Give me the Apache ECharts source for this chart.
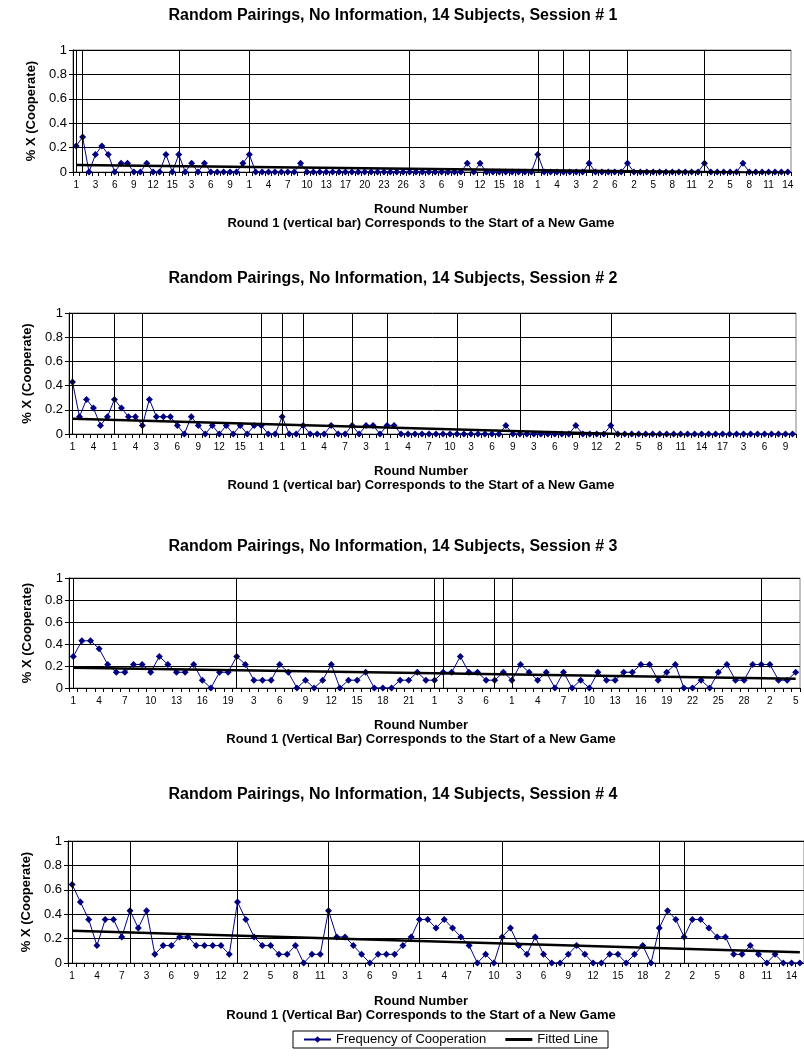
<!DOCTYPE html>
<html>
<head>
<meta charset="utf-8">
<script src="https://cdn.jsdelivr.net/npm/echarts@6/dist/echarts.min.js"></script>
<style>
  html, body { margin: 0; padding: 0; background: #fff; }
  #chart { width: 804px; height: 1062px; }
</style>
</head>
<body>
<div id="chart"></div>
<script>
// round number of each period (1 = start of a new game), one array per session
const roundsS1 = [
  1,
  1,2,3,4,5,6,7,8,9,10,11,12,13,14,15,
  1,2,3,4,5,6,7,8,9,10,11,
  1,2,3,4,5,6,7,8,9,10,11,12,13,15,16,17,18,19,20,21,22,23,24,25,26,
  1,2,3,4,5,6,7,8,9,10,11,12,13,14,15,16,17,18,19,20,
  1,2,3,4,
  1,2,3,4,
  1,2,3,4,6,7,
  1,2,3,4,5,6,7,8,9,10,11,12,
  1,2,3,4,5,6,7,8,9,10,11,12,13,14
];
const roundsS2 = [
  1,2,3,4,5,6,
  1,2,3,4,
  1,2,3,4,5,6,7,8,9,10,11,12,13,14,15,16,17,
  1,2,3,
  1,2,3,
  1,2,3,4,5,6,7,
  1,2,3,4,5,
  1,2,3,4,5,6,7,8,9,10,
  1,2,3,4,5,6,7,8,9,
  1,2,3,4,5,6,7,8,9,10,11,12,13,
  1,2,3,4,5,6,7,8,9,10,11,12,13,14,15,16,17,
  1,2,3,4,5,6,7,8,9,10
];
const roundsS3 = [
  1,2,3,4,5,6,7,8,9,10,11,12,13,14,15,16,17,18,19,
  1,2,3,4,5,6,7,8,9,10,11,12,13,14,15,16,17,18,19,20,21,22,23,
  1,
  1,2,3,4,5,6,
  1,2,
  1,2,3,4,5,6,7,8,9,10,11,12,13,14,15,16,17,18,19,20,21,22,23,24,25,26,27,28,29,
  1,2,3,4,5
];
const roundsS4 = [
  1,2,3,4,5,6,7,
  1,2,3,4,5,6,7,8,9,10,11,12,13,
  1,2,3,4,5,6,7,8,9,10,11,
  1,2,3,4,5,6,7,8,9,10,11,
  1,2,3,4,5,6,7,8,9,10,
  1,2,3,4,5,6,7,8,9,10,11,12,13,14,15,16,17,18,19,
  1,2,3,
  1,2,3,4,5,6,7,8,9,10,11,12,13,14,15
];

// share of the 14 subjects who cooperated in each period
const coopS1 = [
  0.214,0.286,0,0.143,0.214,0.143,0,0.071,0.071,0,
  0,0.071,0,0,0.143,0,0.143,0,0.071,0,
  0.071,0,0,0,0,0,0.071,0.143,0,0,
  0,0,0,0,0,0.071,0,0,0,0,
  0,0,0,0,0,0,0,0,0,0,
  0,0,0,0,0,0,0,0,0,0,
  0,0.071,0,0.071,0,0,0,0,0,0,
  0,0,0.143,0,0,0,0,0,0,0,
  0.071,0,0,0,0,0,0.071,0,0,0,
  0,0,0,0,0,0,0,0,0.071,0,
  0,0,0,0,0.071,0,0,0,0,0,
  0,0
];
const coopS2 = [
  0.429,0.143,0.286,0.214,0.071,0.143,0.286,0.214,0.143,0.143,
  0.071,0.286,0.143,0.143,0.143,0.071,0,0.143,0.071,0,
  0.071,0,0.071,0,0.071,0,0.071,0.071,0,0,
  0.143,0,0,0.071,0,0,0,0.071,0,0,
  0.071,0,0.071,0.071,0,0.071,0.071,0,0,0,
  0,0,0,0,0,0,0,0,0,0,
  0,0,0.071,0,0,0,0,0,0,0,
  0,0,0.071,0,0,0,0,0.071,0,0,
  0,0,0,0,0,0,0,0,0,0,
  0,0,0,0,0,0,0,0,0,0,
  0,0,0,0
];
const coopS3 = [
  0.286,0.429,0.429,0.357,0.214,0.143,0.143,0.214,0.214,0.143,
  0.286,0.214,0.143,0.143,0.214,0.071,0,0.143,0.143,0.286,
  0.214,0.071,0.071,0.071,0.214,0.143,0,0.071,0,0.071,
  0.214,0,0.071,0.071,0.143,0,0,0,0.071,0.071,
  0.143,0.071,0.071,0.143,0.143,0.286,0.143,0.143,0.071,0.071,
  0.143,0.071,0.214,0.143,0.071,0.143,0,0.143,0,0.071,
  0,0.143,0.071,0.071,0.143,0.143,0.214,0.214,0.071,0.143,
  0.214,0,0,0.071,0,0.143,0.214,0.071,0.071,0.214,
  0.214,0.214,0.071,0.071,0.143
];
const coopS4 = [
  0.643,0.5,0.357,0.143,0.357,0.357,0.214,0.429,0.286,0.429,
  0.071,0.143,0.143,0.214,0.214,0.143,0.143,0.143,0.143,0.071,
  0.5,0.357,0.214,0.143,0.143,0.071,0.071,0.143,0,0.071,
  0.071,0.429,0.214,0.214,0.143,0.071,0,0.071,0.071,0.071,
  0.143,0.214,0.357,0.357,0.286,0.357,0.286,0.214,0.143,0,
  0.071,0,0.214,0.286,0.143,0.071,0.214,0.071,0,0,
  0.071,0.143,0.071,0,0,0.071,0.071,0,0.071,0.143,
  0,0.286,0.429,0.357,0.214,0.357,0.357,0.286,0.214,0.214,
  0.071,0.071,0.143,0.071,0,0.071,0,0,0
];

// fitted line value at the first and at the last period
const fitS1 = [0.057, -0.009];
const fitS2 = [0.127, -0.04];
const fitS3 = [0.185, 0.083];
const fitS4 = [0.265, 0.088];

const titles = [
  "Random Pairings, No Information, 14 Subjects, Session # 1",
  "Random Pairings, No Information, 14 Subjects, Session # 2",
  "Random Pairings, No Information, 14 Subjects, Session # 3",
  "Random Pairings, No Information, 14 Subjects, Session # 4"
];
const notes = [
  "Round 1 (vertical bar) Corresponds to the Start of a New Game",
  "Round 1 (vertical bar) Corresponds to the Start of a New Game",
  "Round 1 (Vertical Bar) Corresponds to the Start of a New Game",
  "Round 1 (Vertical Bar) Corresponds to the Start of a New Game"
];

const FONT = "'Liberation Sans', Arial, sans-serif";

const sessions = [
  { rounds: roundsS1, coop: coopS1, fit: fitS1 },
  { rounds: roundsS2, coop: coopS2, fit: fitS2 },
  { rounds: roundsS3, coop: coopS3, fit: fitS3 },
  { rounds: roundsS4, coop: coopS4, fit: fitS4 }
];

// where each panel sits on the page
const layout = [
  { left: 73, top: 50, width: 718, height: 122, titleY: 16, nameY: 209, noteY: 223 },
  { left: 69, top: 313, width: 727, height: 121, titleY: 279, nameY: 471, noteY: 485 },
  { left: 69, top: 578, width: 731, height: 110, titleY: 547, nameY: 725, noteY: 739 },
  { left: 68, top: 841, width: 739, height: 122, titleY: 795, nameY: 1001, noteY: 1015 }
];

const grids = [], xAxes = [], yAxes = [], series = [], texts = [];

function label(text, x, y, font) {
  return {
    type: "text", x: x, y: y, silent: true,
    style: { text: text, font: font, fill: "#000", align: "center", verticalAlign: "middle",
             textAlign: "center", textVerticalAlign: "middle" }
  };
}

sessions.forEach((s, i) => {
  const L = layout[i];
  const n = s.rounds.length;
  // vertical bar at every period where round 1 of a game is played
  const starts = [];
  s.rounds.forEach((r, k) => { if (r === 1) starts.push(k); });

  grids.push({
    left: L.left, top: L.top, width: L.width, height: L.height,
    show: true, borderColor: "#808080", borderWidth: 1
  });

  xAxes.push({
    gridIndex: i,
    type: "category",
    data: s.rounds.map(String),
    boundaryGap: true,
    axisLine: { lineStyle: { color: "#000", width: 1 } },
    axisTick: { show: true, interval: 0, length: 4, lineStyle: { color: "#000" } },
    axisLabel: { interval: 2, fontSize: 10, color: "#000", margin: 8, fontFamily: FONT },
    splitLine: { show: false }
  });

  yAxes.push({
    gridIndex: i,
    type: "value",
    min: 0, max: 1, interval: 0.2,
    name: "% X (Cooperate)",
    nameLocation: "middle",
    nameGap: 34,
    nameTextStyle: { fontWeight: "bold", fontSize: 13, color: "#000", fontFamily: FONT },
    axisLine: { show: true, lineStyle: { color: "#000" } },
    axisTick: { show: true, length: 4, lineStyle: { color: "#000" } },
    axisLabel: { fontSize: 13, color: "#000", margin: 6, fontFamily: FONT },
    splitLine: { show: true, lineStyle: { color: "#000", width: 1 } }
  });

  series.push({
    name: "Frequency of Cooperation",
    type: "line",
    xAxisIndex: i, yAxisIndex: i,
    data: s.coop,
    symbol: "diamond",
    symbolSize: 7,
    showAllSymbol: true,
    lineStyle: { color: "#000080", width: 1 },
    itemStyle: { color: "#000080" },
    z: 3,
    markLine: {
      silent: true,
      symbol: "none",
      label: { show: false },
      lineStyle: { color: "#000", width: 1, type: "solid" },
      emphasis: { disabled: true },
      data: starts.map(k => ({ xAxis: k }))
    }
  });

  series.push({
    name: "Fitted Line",
    type: "line",
    xAxisIndex: i, yAxisIndex: i,
    data: [[0, s.fit[0]], [n - 1, s.fit[1]]],
    symbol: "none",
    clip: true,
    lineStyle: { color: "#000", width: 2.5 },
    itemStyle: { color: "#000" },
    z: 4
  });

  texts.push(
    label(titles[i], 393, L.titleY, "bold 16px " + FONT),
    label("Round Number", 421, L.nameY, "bold 13px " + FONT),
    label(notes[i], 421, L.noteY, "bold 13px " + FONT)
  );
});

const chart = echarts.init(document.getElementById("chart"), null, { renderer: "canvas" });
chart.setOption({
  animation: false,
  backgroundColor: "#fff",
  textStyle: { fontFamily: FONT },
  grid: grids,
  xAxis: xAxes,
  yAxis: yAxes,
  series: series,
  legend: {
    data: [
      { name: "Frequency of Cooperation" },
      { name: "Fitted Line", icon: "path://M0,0H100V11H0Z" }
    ],
    left: 293, top: 1031,
    orient: "horizontal",
    borderColor: "#000", borderWidth: 1, borderRadius: 0,
    padding: [2, 10],
    itemGap: 19, itemWidth: 27, itemHeight: 8,
    selectedMode: false,
    textStyle: { fontSize: 13, color: "#000", fontFamily: FONT }
  },
  graphic: { elements: texts }
});
</script>
</body>
</html>
